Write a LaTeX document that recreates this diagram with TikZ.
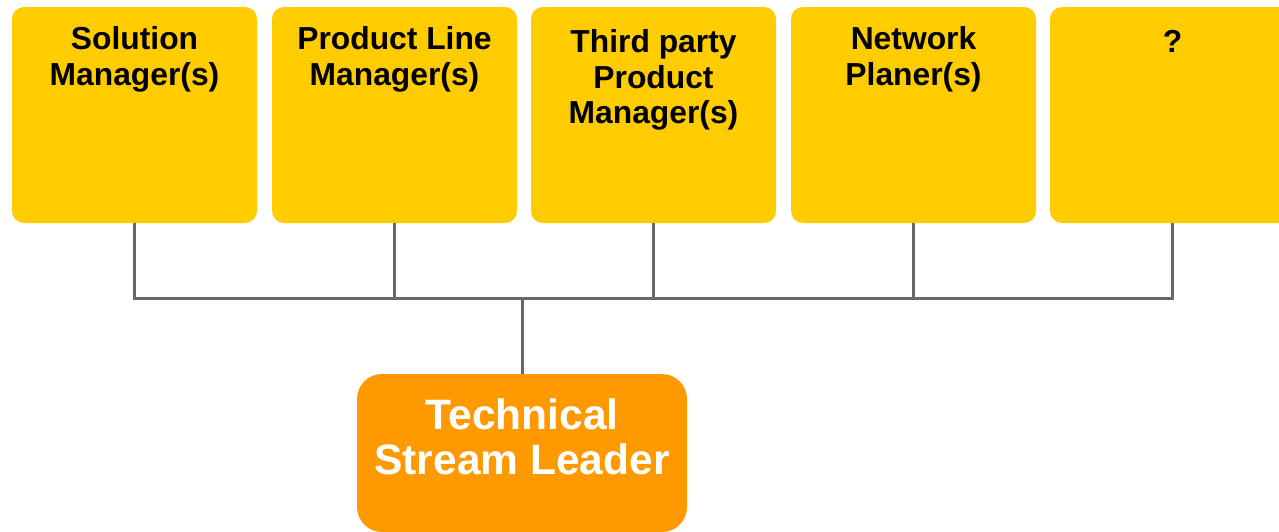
\documentclass[tikz,border=0pt]{standalone}
\usepackage{fontspec}
\setmainfont{Liberation Sans}
\usepackage{tikz}
\usetikzlibrary{positioning}

\definecolor{boxyellow}{HTML}{FFCC00}
\definecolor{leadorange}{HTML}{FF9900}
\definecolor{linkgray}{HTML}{686868}

\tikzset{
  rolebox/.style={fill=boxyellow, rounded corners=12pt, minimum width=245pt, minimum height=216pt, inner sep=0pt},
  roletext/.style={anchor=north, align=center, inner sep=0pt, font=\fontsize{31.8}{35.5}\selectfont\bfseries},
  leadbox/.style={fill=leadorange, rounded corners=25pt, minimum width=330pt, minimum height=158pt, inner sep=0pt},
  leadtext/.style={anchor=north, align=center, inner sep=0pt, text=white, font=\fontsize{42.5}{45.5}\selectfont\bfseries},
  link/.style={draw=linkgray, line width=3pt}
}

\begin{document}
\begin{tikzpicture}[x=1pt, y=-1pt]
    \clip (0,0) rectangle (1279,531);
    \fill[white] (0,0) rectangle (1279,531);

    % role boxes
    \node[rolebox] (sm)  at (134.5,115) {};
    \node[rolebox] (plm) at (394.5,115) {};
    \node[rolebox] (tpm) at (653.5,115) {};
    \node[rolebox] (np)  at (913.5,115) {};
    \node[rolebox] (q)   at (1172.5,115) {};

    \node[roletext] (smtext)  at (134.5,26.5) {Solution\\Manager(s)};
    \node[roletext] (plmtext) at (394.5,26.5) {Product Line\\Manager(s)};
    \node[roletext] (tpmtext) at (653.5,29.5) {Third party\\Product\\Manager(s)};
    \node[roletext] (nptext)  at (913.5,26.5) {Network\\Planer(s)};
    \node[roletext] (qtext)   at (1172.5,30) {?};

    % stream leader
    \node[leadbox] (tsl) at (522,453) {};
    \node[leadtext] (tsltext) at (522,398) {Technical\\Stream Leader};

    \coordinate (bus) at (522,298);
    \draw[link] (sm.south) |- (bus) -| (q.south);
    \foreach \r in {plm,tpm,np}
      \draw[link] (\r.south) -- (\r.south |- bus);
    \draw[link] (bus) -- (tsl.north);

\end{tikzpicture}
\end{document}
